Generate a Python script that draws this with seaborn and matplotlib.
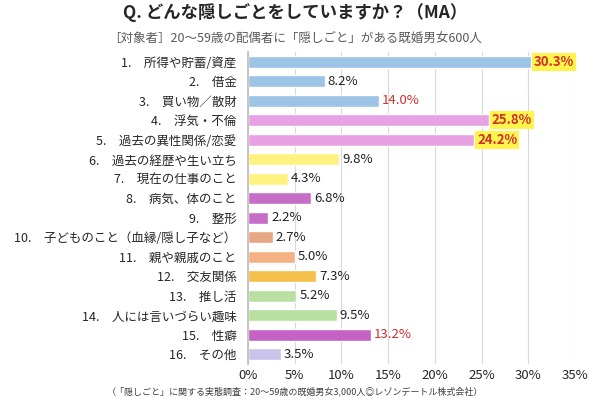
import matplotlib
matplotlib.use("Agg")
import matplotlib.pyplot as plt
import seaborn as sns
import pandas as pd

sns.set_theme(style="white")
plt.rcParams['font.family'] = ['Noto Sans CJK JP', 'DejaVu Sans']

categories = ["1.　所得や貯蓄/資産", "2.　借金", "3.　買い物／散財", "4.　浮気・不倫",
              "5.　過去の異性関係/恋愛", "6.　過去の経歴や生い立ち", "7.　現在の仕事のこと",
              "8.　病気、体のこと", "9.　整形", "10.　子どものこと（血縁/隠し子など）",
              "11.　親や親戚のこと", "12.　交友関係", "13.　推し活", "14.　人には言いづらい趣味",
              "15.　性癖", "16.　その他"]
values = [30.3, 8.2, 14.0, 25.8, 24.2, 9.8, 4.3, 6.8, 2.2, 2.7, 5.0, 7.3, 5.2, 9.5, 13.2, 3.5]
colors = ["#9DC3E6", "#9DC3E6", "#9DC3E6", "#E8A2E4", "#E8A2E4", "#FFF280", "#FFF280",
          "#C66DC8", "#C66DC8", "#E8A784", "#F4B183", "#F4BF4A", "#B8E0A0", "#B8E0A0",
          "#C462C6", "#CBC3EA"]
highlight = [0, 3, 4]
red_only = [2, 14]

df = pd.DataFrame({"cat": categories, "val": values})
fig, ax = plt.subplots(figsize=(5.9, 4.0), dpi=100)
sns.barplot(data=df, x="val", y="cat", hue="cat", palette=colors, legend=False,
            width=0.62, ax=ax, orient="h", saturation=1)
for i, v in enumerate(values):
    if i in highlight:
        ax.text(v + 0.3, i, f"{v:.1f}%", va="center", ha="left", fontsize=9.5,
                color="#D03030", fontweight="bold",
                bbox=dict(boxstyle="square,pad=0.15", fc="#FFF54A", ec="none"))
    elif i in red_only:
        ax.text(v + 0.3, i, f"{v:.1f}%", va="center", ha="left", fontsize=9.5, color="#D03030")
    else:
        ax.text(v + 0.3, i, f"{v:.1f}%", va="center", ha="left", fontsize=9.5, color="#222222")

ax.set_xlim(0, 35)
ax.set_xticks(range(0, 36, 5))
ax.set_xticklabels([f"{t}%" for t in range(0, 36, 5)], fontsize=9.5)
ax.set_xlabel("")
ax.set_ylabel("")
ax.tick_params(axis="y", labelsize=9, length=0, pad=8)
ax.tick_params(axis="x", length=0)
ax.grid(axis="x", color="#D9D9D9", linewidth=0.8)
ax.set_axisbelow(True)
for s in ["top", "right", "bottom"]:
    ax.spines[s].set_visible(False)
ax.spines["left"].set_color("#BFBFBF")

fig.text(0.5, 0.955, "Q. どんな隠しごとをしていますか？（MA）", ha="center", fontsize=12.5, fontweight="bold")
fig.text(0.5, 0.895, "［対象者］20～59歳の配偶者に「隠しごと」がある既婚男女600人", ha="center", fontsize=9, color="#595959")
fig.text(0.5, 0.015, "（「隠しごと」に関する実態調査：20～59歳の既婚男女3,000人◎レゾンデートル株式会社）", ha="center", fontsize=6.5, color="#404040")
plt.subplots_adjust(left=0.42, right=0.975, top=0.87, bottom=0.09)
fig.savefig("out.png", dpi=100)
